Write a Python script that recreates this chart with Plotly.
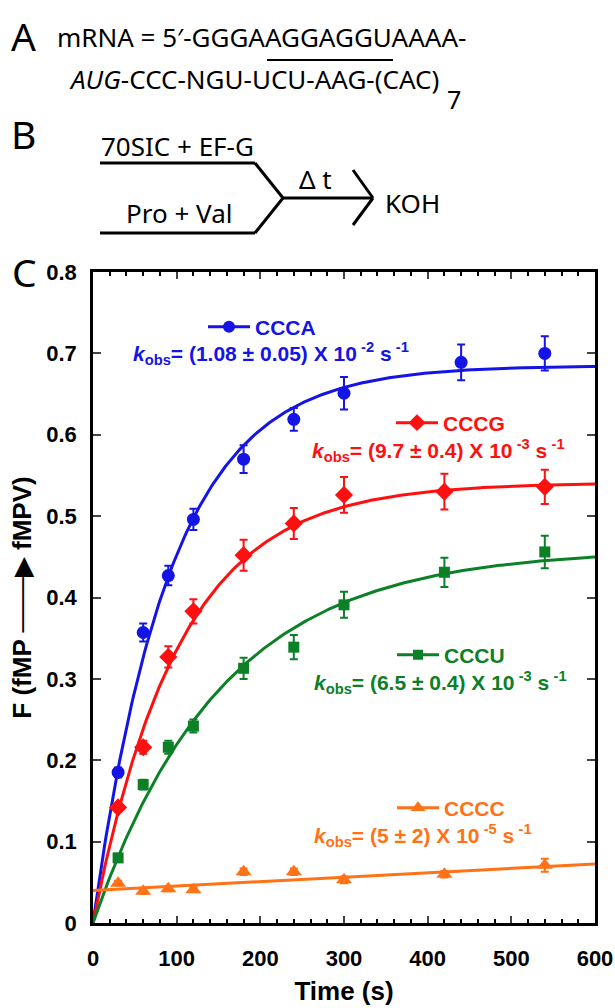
import numpy as np
import plotly.graph_objects as go

# ---------------- data ----------------
time_s = [30, 60, 90, 120, 180, 240, 300, 420, 540]
time_ccca = [30, 60, 90, 120, 180, 240, 300, 440, 540]

ccca = [0.185, 0.357, 0.427, 0.496, 0.570, 0.619, 0.651, 0.689, 0.700]
ccca_err = [0.006, 0.011, 0.012, 0.013, 0.017, 0.014, 0.020, 0.022, 0.021]
cccg = [0.142, 0.216, 0.327, 0.383, 0.452, 0.491, 0.526, 0.530, 0.536]
cccg_err = [0.005, 0.008, 0.013, 0.015, 0.019, 0.019, 0.022, 0.022, 0.021]
cccu = [0.080, 0.170, 0.216, 0.242, 0.313, 0.339, 0.391, 0.431, 0.456]
cccu_err = [0.005, 0.006, 0.008, 0.008, 0.013, 0.015, 0.016, 0.018, 0.020]
cccc = [0.049, 0.039, 0.042, 0.041, 0.063, 0.063, 0.053, 0.060, 0.071]
cccc_err = [0.003, 0.003, 0.003, 0.003, 0.004, 0.004, 0.004, 0.004, 0.008]

series_names = ["CCCA", "CCCG", "CCCU", "CCCC"]
# single-exponential fit parameters: F = offset + amp * (1 - exp(-k t))
fit_k = [1.08e-2, 9.7e-3, 6.5e-3, 5e-5]
fit_amp = [0.685, 0.541, 0.459, 1.1]
fit_offset = [0.0, 0.0, 0.0, 0.04]
kobs_labels = [
    "(1.08 ± 0.05) X 10\u2009<sup>-2</sup> s\u2009<sup>-1</sup>",
    "(9.7 ± 0.4) X 10\u2009<sup>-3</sup> s\u2009<sup>-1</sup>",
    "(6.5 ± 0.4) X 10\u2009<sup>-3</sup> s\u2009<sup>-1</sup>",
    "(5 ± 2) X 10\u2009<sup>-5</sup> s\u2009<sup>-1</sup>",
]
x_ticks = [0, 100, 200, 300, 400, 500, 600]
y_ticks = [0, 0.1, 0.2, 0.3, 0.4, 0.5, 0.6, 0.7, 0.8]
y_ticklabels = ["0", "0.1", "0.2", "0.3", "0.4", "0.5", "0.6", "0.7", "0.8"]

# ---------------- styling ----------------
colors = ["#1414e6", "#ff1010", "#0b8026", "#ff7216"]
symbols = ["circle", "diamond", "square", "triangle-up"]
msizes = [13, 14, 11, 14]

OFF = 0                      # page body margin is removed below
W, H = 615, 1008
L, R, T, B = 93, 595, 272, 923


def px(x):  # page pixel -> paper
    return (x - OFF - L) / (R - L)


def py(y):
    return (B - (y - OFF)) / (B - T)


fig = go.Figure()

t_fit = np.linspace(0, 600, 301)
xs = [time_ccca, time_s, time_s, time_s]
ys = [ccca, cccg, cccu, cccc]
es = [ccca_err, cccg_err, cccu_err, cccc_err]

for i, name in enumerate(series_names):
    fit = fit_offset[i] + fit_amp[i] * (1 - np.exp(-fit_k[i] * t_fit))
    fig.add_trace(go.Scatter(x=t_fit, y=fit, mode="lines",
                             line=dict(color=colors[i], width=3),
                             showlegend=False, hoverinfo="skip"))
    fig.add_trace(go.Scatter(x=xs[i], y=ys[i], mode="markers",
                             marker=dict(symbol=symbols[i], size=msizes[i], color=colors[i]),
                             error_y=dict(type="data", array=es[i], color=colors[i],
                                          thickness=2, width=4),
                             showlegend=False))
    lg = "legend" if i == 0 else f"legend{i + 1}"
    fig.add_trace(go.Scatter(x=[None], y=[None], mode="lines+markers", name=name,
                             line=dict(color=colors[i], width=3),
                             marker=dict(symbol=symbols[i], size=msizes[i] - 1, color=colors[i]),
                             legend=lg, showlegend=True))

leg_pos = [(203, 327), (391, 423), (392, 655), (392, 808)]
legend_cfg = {}
for i, (lx, ly) in enumerate(leg_pos):
    key = "legend" if i == 0 else f"legend{i + 1}"
    legend_cfg[key] = dict(x=px(lx), y=py(ly), xanchor="left", yanchor="middle",
                           bgcolor="rgba(0,0,0,0)", borderwidth=0,
                           font=dict(family="Liberation Sans, Arial", size=21,
                                     color=colors[i], weight="bold"),
                           itemwidth=42, tracegroupgap=0)

annotations = []
kobs_pos = [(131, 353), (310, 450), (312, 682), (312, 835)]
for i, (kx, ky) in enumerate(kobs_pos):
    annotations.append(dict(
        x=px(kx), y=py(ky), xref="paper", yref="paper", xanchor="left", yanchor="middle",
        text="<b><i>k</i><sub>obs</sub>= " + kobs_labels[i] + "</b>",
        showarrow=False,
        font=dict(family="Liberation Sans, Arial", size=21, color=colors[i])))

panel_font = "Noto Sans"
for letter, (lx, ly) in zip(["A", "B", "C"], [(9, 36), (9, 133), (10, 271)]):
    annotations.append(dict(x=px(lx), y=py(ly), xref="paper", yref="paper",
                            xanchor="left", yanchor="middle", text=letter, showarrow=False,
                            font=dict(family=panel_font, size=39, color="black")))

annotations.append(dict(x=px(55), y=py(37), xref="paper", yref="paper",
                        xanchor="left", yanchor="middle",
                        text="mRNA = 5\u2032-GGGAAGGAGGUAAAA-", showarrow=False,
                        font=dict(family=panel_font, size=26, color="black")))
annotations.append(dict(x=px(67), y=py(79), xref="paper", yref="paper",
                        xanchor="left", yanchor="middle",
                        text="<i>AUG</i>-CCC-NGU-UCU-AAG-(CAC)", showarrow=False,
                        font=dict(family=panel_font, size=26, color="black")))
annotations.append(dict(x=px(445), y=py(99), xref="paper", yref="paper",
                        xanchor="left", yanchor="middle",
                        text="7", showarrow=False,
                        font=dict(family=panel_font, size=25, color="black")))

for txt, (tx, ty), anc in [("70SIC + EF-G", (177, 146), "center"),
                           ("Pro + Val", (179, 213), "center"),
                           ("\u0394 t", (315, 179), "center"),
                           ("KOH", (383, 203), "left")]:
    annotations.append(dict(x=px(tx), y=py(ty), xref="paper", yref="paper",
                            xanchor=anc, yanchor="middle", text=txt, showarrow=False,
                            font=dict(family=panel_font, size=26, color="black")))

shapes = []


def seg(x0, y0, x1, y1, w=3):
    shapes.append(dict(type="line", xref="paper", yref="paper",
                       x0=px(x0), y0=py(y0), x1=px(x1), y1=py(y1),
                       line=dict(color="black", width=w)))


seg(267, 60, 393, 60, 2)
seg(100, 163, 255, 163)
seg(255, 163, 283, 198)
seg(100, 233, 255, 233)
seg(255, 233, 283, 198)
seg(283, 198, 373, 198)
seg(353, 170, 373, 198)
seg(373, 198, 353, 225)

axis_font = dict(family="Liberation Sans, Arial", size=22, color="black", weight="bold")

fig.update_layout(
    width=W, height=H,
    margin=dict(l=L, r=W - R, t=T, b=H - B, autoexpand=False),
    paper_bgcolor="white", plot_bgcolor="white",
    annotations=annotations, shapes=shapes,
    showlegend=True,
    **legend_cfg,
)

fig.update_xaxes(range=[0, 600], tickvals=x_ticks, ticks="inside", ticklen=7, tickwidth=2,
                 showline=True, linewidth=2.5, linecolor="black", mirror="ticks",
                 showgrid=False, zeroline=False,
                 minor=dict(dtick=20, ticks="inside", ticklen=4, tickwidth=1.5, tickcolor="black"),
                 tickfont=axis_font, ticklabelstandoff=14,
                 title=dict(text="Time (s)", font=dict(family="Liberation Sans, Arial", size=26,
                                                       weight="bold", color="black"),
                            standoff=12))
fig.update_yaxes(range=[0, 0.8], tickvals=y_ticks, ticktext=y_ticklabels,
                 ticks="inside", ticklen=8, tickwidth=2,
                 showline=True, linewidth=2.5, linecolor="black", mirror="ticks",
                 showgrid=False, zeroline=False,
                 tickfont=axis_font, ticklabelstandoff=9,
                 title=dict(text="\u00a0\u00a0\u00a0F (fMP <span style='font-weight:normal'>\u2500\u2500\u2500\u25B6</span> fMPV)",
                            font=dict(family="Liberation Sans, Arial", size=26,
                                      weight="bold", color="black"),
                            standoff=8))

fig.write_html("out.html", config={"displayModeBar": False},
               post_script="document.body.style.margin='0';document.body.style.overflow='hidden';")
